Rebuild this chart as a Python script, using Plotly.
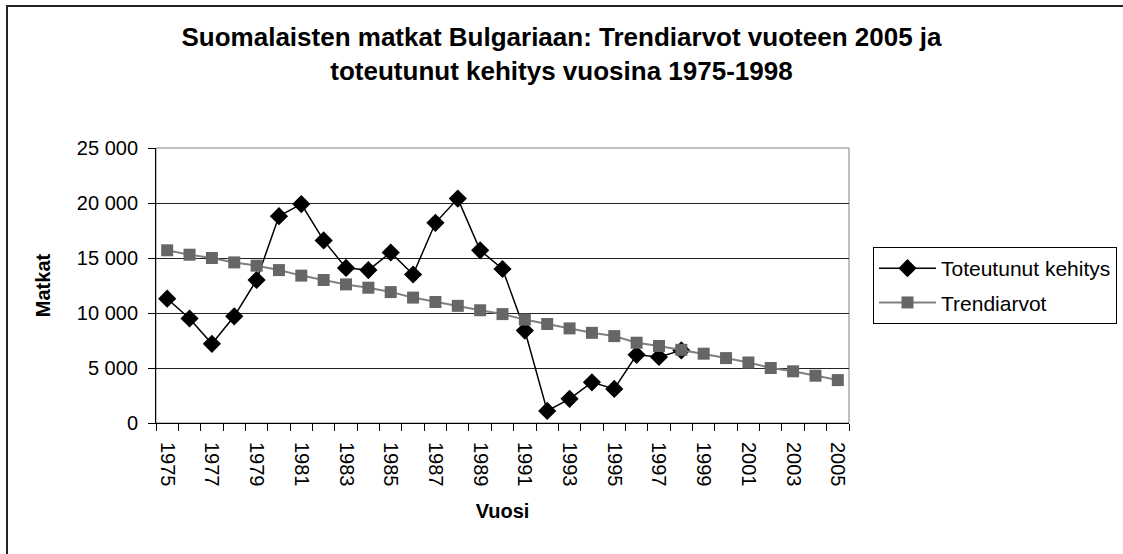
import plotly.graph_objects as go

years_actual = list(range(1975, 1999))
actual = [11300, 9500, 7200, 9700, 13000, 18800, 19900, 16600, 14100, 13900,
          15500, 13500, 18200, 20400, 15700, 14000, 8400, 1100, 2200, 3700,
          3100, 6200, 6000, 6600]

years_trend = list(range(1975, 2006))
trend = [15700, 15300, 15000, 14600, 14300, 13900, 13400, 13000, 12600, 12300,
         11900, 11400, 11000, 10650, 10250, 9900, 9400, 9000, 8600, 8200,
         7900, 7300, 7000, 6650, 6300, 5900, 5500, 5000, 4700, 4300, 3900]

tick_years = list(range(1975, 2006, 2))
tick_labels = [str(y) for y in tick_years]

title_text = ("Suomalaisten matkat Bulgariaan: Trendiarvot vuoteen 2005 ja<br>"
              "toteutunut kehitys vuosina 1975-1998")

W, H = 1123, 554
L, R, T, B = 156, 849, 148, 423

fig = go.Figure()
fig.add_trace(go.Scatter(
    x=years_actual, y=actual, name="Toteutunut kehitys", mode="lines+markers",
    line=dict(color="black", width=1.5),
    marker=dict(symbol="diamond", size=14, color="black"),
    legendgroup="a",
))
fig.add_trace(go.Scatter(
    x=years_trend, y=trend, name="Trendiarvot", mode="lines+markers",
    line=dict(color="#808080", width=2),
    marker=dict(symbol="square", size=12, color="#666666"),
    legendgroup="b",
))

font = "Arial, Liberation Sans, sans-serif"

fig.update_layout(
    width=W, height=H,
    margin=dict(l=L, r=W - R, t=T, b=H - B, pad=0, autoexpand=False),
    paper_bgcolor="white", plot_bgcolor="white",
    separators=", ",
    font=dict(family=font, size=20, color="black"),
    title=dict(text="<b>" + title_text + "</b>", x=0.5, xanchor="center",
               y=1 - 46 / H, yanchor="middle", yref="container",
               font=dict(family=font, size=26, color="black")),
    showlegend=True,
    legend=dict(x=(873 - L) / (R - L), xanchor="left",
                y=(B - 247) / (B - T), yanchor="top",
                bordercolor="black", borderwidth=1, bgcolor="white",
                font=dict(family=font, size=21),
                traceorder="grouped", tracegroupgap=4, itemwidth=57),
    xaxis=dict(
        range=[1974.5, 2005.5], tickmode="array", tickvals=tick_years,
        ticktext=tick_labels, tickangle=90, ticks="", showgrid=False,
        showline=True, linecolor="black", linewidth=1, zeroline=False,
        tickfont=dict(family=font, size=20), ticklabelstandoff=14,
        minor=dict(tick0=1974.5, dtick=1, ticks="outside", ticklen=7,
                   tickcolor="black", tickwidth=1, showgrid=False),
        title=dict(text="<b>Vuosi</b>", font=dict(family=font, size=20),
                   standoff=18),
    ),
    yaxis=dict(
        range=[0, 25000], tickmode="linear", tick0=0, dtick=5000,
        tickformat=",d", ticks="outside", ticklen=7, tickcolor="black",
        showgrid=True, gridcolor="#222222", gridwidth=1,
        showline=True, linecolor="black", linewidth=1, zeroline=False,
        tickfont=dict(family=font, size=20), ticklabelstandoff=6,
        title=dict(text="<b>Matkat</b>", font=dict(family=font, size=20),
                   standoff=20),
    ),
    shapes=[
        dict(type="rect", xref="paper", yref="paper", x0=0, x1=1, y0=0, y1=1,
             line=dict(color="#808080", width=1), layer="below"),
        dict(type="rect", xref="paper", yref="paper",
             x0=(7 - L) / (R - L), x1=(W + 5 - L) / (R - L),
             y0=(B - (H + 5)) / (B - T), y1=(B - 6) / (B - T),
             line=dict(color="#222222", width=2), layer="below"),
    ],
)

fig.write_html("out.html",
               config={"displayModeBar": False},
               post_script="document.body.style.margin='0';"
                           "document.body.style.padding='0';")
